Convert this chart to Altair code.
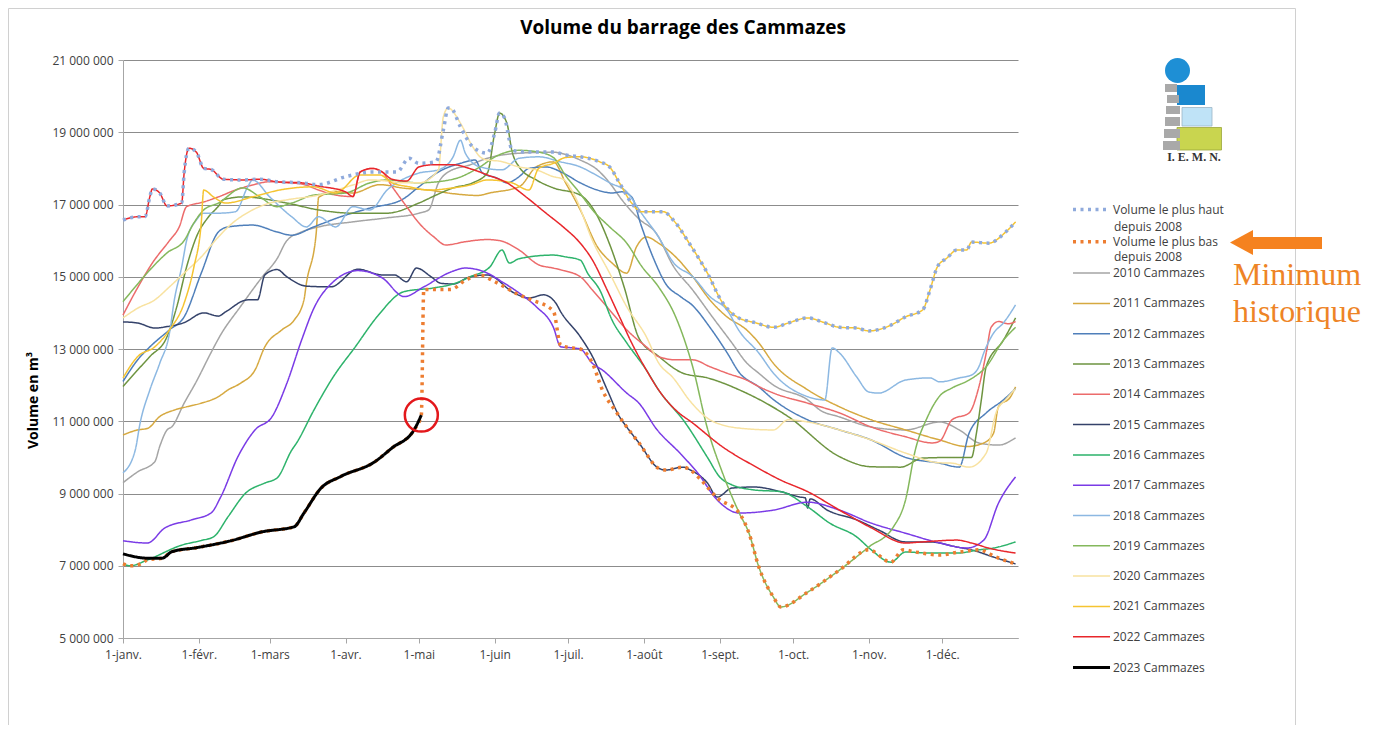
import altair as alt
import pandas as pd

FONT = "Open Sans"

# ---- data: (day of year [leap-year axis], volume in millions of m3) ----
S2010 = [(0, 9.3), (6, 9.6), (13, 9.88), (15, 10.3), (18, 10.76), (20, 10.85), (25, 11.5), (30, 12.1), (36, 12.9), (40, 13.4),
         (48, 14.17), (57, 15.0), (63, 15.5), (67, 16.0), (73, 16.24), (80, 16.38), (94, 16.52), (108, 16.63), (121, 16.76), (125, 16.85),
         (129, 17.6), (133, 17.9), (142, 18.1), (149, 18.28), (162, 18.42), (176, 18.45), (179, 18.42), (187, 18.23), (194, 17.96), (199, 17.6),
         (204, 17.13), (211, 16.6), (218, 16.21), (225, 15.3), (233, 14.63), (241, 13.89), (249, 13.17), (255, 12.62), (260, 12.33), (266, 12.0),
         (280, 11.59), (285, 11.31), (293, 11.12), (306, 10.84), (320, 10.76), (334, 10.98), (342, 10.76), (350, 10.4), (358, 10.34), (365, 10.54)]
S2011 = [(0, 10.62), (6, 10.76), (10, 10.8), (15, 11.13), (21, 11.31), (26, 11.4), (32, 11.5), (39, 11.68), (43, 11.87), (48, 12.05),
         (54, 12.42), (58, 13.06), (65, 13.53), (70, 13.8), (74, 14.36), (75, 14.82), (79, 16.2), (80, 17.2), (87, 17.35), (94, 17.32),
         (105, 17.55), (115, 17.45), (125, 17.4), (135, 17.3), (145, 17.25), (150, 17.32), (162, 17.49), (169, 18.04), (176, 18.18), (181, 17.6),
         (187, 16.85), (194, 15.83), (200, 15.38), (206, 15.1), (210, 15.83), (214, 16.1), (219, 15.93), (226, 15.55), (233, 15.0), (240, 14.36),
         (247, 13.89), (255, 13.53), (260, 13.17), (266, 12.6), (280, 11.87), (293, 11.4), (306, 11.04), (320, 10.76), (334, 10.48), (345, 10.3),
         (352, 10.4), (356, 10.67), (358, 11.4), (363, 11.68), (365, 11.95)]
S2012 = [(0, 12.1), (6, 12.7), (11, 13.06), (19, 13.53), (25, 13.89), (32, 15.1), (39, 16.24), (43, 16.38), (53, 16.43), (63, 16.24),
         (69, 16.15), (78, 16.38), (89, 16.66), (101, 16.9), (114, 17.13), (121, 17.49), (129, 17.9), (138, 18.14), (144, 18.23), (147, 17.87),
         (153, 17.73), (157, 17.6), (162, 17.77), (166, 18.0), (173, 18.04), (180, 17.87), (187, 17.6), (194, 17.4), (200, 17.32), (204, 17.35),
         (208, 17.21), (212, 16.4), (217, 15.5), (222, 14.8), (228, 14.45), (233, 14.2), (240, 13.6), (247, 12.9), (252, 12.35), (260, 11.95),
         (266, 11.6), (280, 11.04), (293, 10.76), (306, 10.48), (320, 10.0), (334, 9.84), (342, 9.73), (346, 10.67), (353, 11.23), (360, 11.59),
         (365, 11.9)]
S2013 = [(0, 11.96), (6, 12.42), (11, 12.79), (18, 13.34), (22, 14.17), (26, 15.27), (30, 16.1), (35, 16.66), (39, 16.95), (41, 17.13),
         (49, 17.21), (67, 17.04), (80, 16.85), (94, 16.76), (108, 16.76), (121, 17.04), (128, 17.26), (135, 17.46), (143, 17.6), (149, 17.87),
         (152, 18.98), (154, 19.53), (157, 19.25), (159, 18.5), (162, 18.04), (169, 17.68), (176, 17.46), (187, 17.26), (193, 16.8), (199, 15.9),
         (205, 14.7), (211, 13.3), (219, 12.8), (229, 12.33), (239, 12.2), (252, 11.87), (272, 11.13), (293, 10.02), (306, 9.74), (318, 9.73),
         (327, 9.98), (341, 10.0), (347, 10.0), (349, 10.67), (351, 11.59), (353, 12.51), (360, 13.24), (365, 13.86)]
S2014 = [(0, 13.94), (6, 14.7), (12, 15.38), (19, 16.0), (23, 16.38), (26, 16.94), (33, 17.07), (39, 17.21), (46, 17.4), (53, 17.54),
         (60, 17.63), (67, 17.6), (73, 17.57), (80, 17.4), (87, 17.26), (94, 17.22), (97, 17.9), (102, 18.0), (106, 17.9), (110, 17.5),
         (116, 16.94), (121, 16.49), (127, 16.11), (132, 15.88), (140, 15.97), (149, 16.03), (154, 16.0), (162, 15.74), (170, 15.33), (176, 15.24),
         (179, 15.19), (187, 15.0), (192, 14.63), (199, 14.08), (206, 13.53), (214, 13.06), (219, 12.79), (226, 12.7), (233, 12.7), (240, 12.51),
         (247, 12.33), (255, 12.14), (260, 11.96), (266, 11.78), (280, 11.5), (293, 11.23), (306, 10.84), (320, 10.57), (331, 10.4), (334, 10.45),
         (339, 11.04), (346, 11.23), (350, 11.95), (353, 12.89), (355, 13.6), (358, 13.76), (362, 13.7), (365, 13.76)]
S2015 = [(0, 13.75), (6, 13.72), (13, 13.58), (18, 13.62), (25, 13.73), (33, 14.0), (39, 13.91), (42, 14.03), (51, 14.36), (55, 14.36),
         (58, 15.05), (63, 15.2), (67, 15.0), (75, 14.74), (85, 14.72), (96, 15.21), (106, 15.05), (111, 15.05), (116, 14.86), (120, 15.24),
         (126, 15.0), (130, 14.82), (135, 14.8), (142, 15.0), (149, 15.05), (160, 14.55), (166, 14.41), (172, 14.5), (177, 14.27), (179, 14.03),
         (187, 13.34), (192, 12.79), (198, 11.87), (203, 11.13), (206, 10.84), (211, 10.4), (219, 9.7), (222, 9.65), (229, 9.73), (232, 9.65),
         (239, 9.29), (243, 8.9), (249, 9.15), (258, 9.18), (269, 9.05), (277, 8.9), (279, 8.88), (280, 8.6), (281, 8.85), (288, 8.54),
         (300, 8.27), (309, 7.99), (320, 7.66), (330, 7.66), (341, 7.52), (347, 7.44), (356, 7.24), (365, 7.05)]
S2016 = [(0, 7.05), (3, 7.0), (10, 7.16), (24, 7.57), (32, 7.7), (37, 7.8), (43, 8.36), (50, 9.0), (58, 9.29), (63, 9.43),
         (69, 10.2), (71, 10.4), (78, 11.3), (86, 12.23), (95, 13.06), (104, 13.9), (115, 14.59), (127, 14.69), (135, 14.8), (142, 15.0),
         (150, 15.27), (155, 15.74), (158, 15.38), (162, 15.5), (176, 15.6), (181, 15.55), (187, 15.46), (190, 15.1), (195, 14.63), (200, 13.8),
         (206, 13.17), (214, 12.42), (219, 11.87), (230, 10.95), (239, 10.0), (244, 9.46), (249, 9.24), (258, 9.1), (269, 9.05), (280, 8.63),
         (289, 8.18), (300, 7.8), (306, 7.44), (314, 7.1), (320, 7.38), (330, 7.35), (341, 7.35), (350, 7.44), (356, 7.49), (365, 7.66)]
S2017 = [(0, 7.69), (10, 7.63), (17, 8.04), (28, 8.27), (36, 8.46), (40, 8.91), (47, 10.02), (54, 10.76), (61, 11.13), (67, 12.05),
         (73, 13.24), (78, 14.12), (86, 14.86), (96, 15.17), (106, 14.97), (115, 14.45), (123, 14.72), (134, 15.13), (140, 15.24), (149, 15.1),
         (155, 14.86), (162, 14.55), (169, 14.17), (176, 13.6), (179, 13.06), (184, 13.03), (187, 13.0), (192, 12.6), (196, 12.42), (206, 11.78),
         (211, 11.5), (218, 10.8), (228, 10.1), (235, 9.57), (243, 8.82), (252, 8.46), (266, 8.54), (280, 8.76), (293, 8.54), (306, 8.18),
         (320, 7.9), (334, 7.63), (345, 7.49), (352, 7.71), (358, 8.73), (365, 9.46)]
S2018 = [(0, 9.57), (5, 10.2), (7, 10.95), (11, 11.87), (15, 12.6), (19, 13.44), (21, 14.36), (24, 15.27), (26, 16.0), (30, 16.57),
         (33, 16.76), (39, 16.76), (46, 16.8), (51, 17.49), (53, 17.68), (60, 17.21), (69, 16.66), (75, 16.38), (80, 16.66), (87, 16.38),
         (94, 16.94), (101, 16.85), (108, 17.4), (114, 17.68), (121, 17.87), (129, 17.96), (135, 18.32), (138, 18.78), (140, 18.42), (146, 18.04),
         (155, 17.96), (162, 18.28), (170, 18.32), (179, 18.18), (187, 18.04), (192, 17.87), (199, 17.6), (206, 17.35), (212, 16.76), (219, 16.1),
         (225, 15.4), (233, 15.0), (240, 14.45), (247, 14.08), (252, 13.5), (260, 12.89), (266, 12.33), (280, 11.68), (287, 11.59), (290, 13.03),
         (293, 12.89), (300, 12.23), (305, 11.81), (309, 11.78), (320, 12.14), (330, 12.2), (334, 12.09), (342, 12.2), (347, 12.28), (350, 12.51),
         (352, 12.89), (356, 13.44), (360, 13.72), (365, 14.22)]
S2019 = [(0, 14.31), (5, 14.72), (11, 15.19), (18, 15.66), (25, 16.0), (29, 16.49), (33, 16.85), (39, 17.04), (49, 17.46), (56, 17.21),
         (63, 16.94), (69, 17.04), (78, 17.26), (91, 17.32), (101, 17.6), (108, 17.68), (121, 17.6), (135, 17.7), (145, 18.0), (153, 18.35),
         (162, 18.5), (170, 18.45), (176, 18.3), (181, 17.8), (187, 17.3), (192, 16.85), (199, 16.38), (206, 15.93), (212, 15.3), (219, 14.72),
         (226, 13.89), (233, 12.5), (239, 10.8), (245, 9.6), (252, 8.46), (256, 7.9), (260, 6.97), (266, 6.13), (269, 5.86), (280, 6.27),
         (293, 6.88), (305, 7.52), (315, 8.07), (320, 8.82), (324, 10.2), (329, 11.12), (334, 11.7), (339, 11.92), (346, 12.14), (353, 12.51),
         (360, 13.24), (365, 13.6)]
S2020 = [(0, 13.86), (6, 14.13), (13, 14.36), (19, 14.72), (25, 15.1), (32, 15.55), (39, 16.1), (43, 16.38), (53, 16.85), (60, 17.04),
         (67, 17.13), (80, 17.26), (94, 17.54), (101, 17.68), (108, 17.65), (114, 17.6), (121, 17.6), (129, 17.96), (131, 19.43), (133, 19.67),
         (138, 19.25), (143, 18.6), (146, 18.32), (149, 18.23), (154, 18.2), (162, 18.04), (169, 17.96), (176, 17.77), (180, 17.7), (185, 17.2),
         (192, 16.0), (199, 15.1), (206, 14.17), (214, 13.34), (219, 12.62), (225, 12.2), (232, 11.55), (240, 11.04), (245, 10.9), (252, 10.81),
         (266, 10.76), (272, 11.04), (280, 10.98), (293, 10.76), (306, 10.48), (320, 10.12), (334, 9.85), (339, 9.84), (346, 9.73), (353, 10.12),
         (357, 11.23), (361, 11.6), (365, 11.9)]
S2021 = [(0, 12.2), (6, 12.79), (13, 13.06), (19, 13.53), (25, 14.27), (29, 15.27), (32, 16.49), (33, 17.4), (37, 17.21), (42, 17.04),
         (53, 17.21), (64, 17.4), (78, 17.49), (87, 17.32), (97, 17.82), (105, 17.82), (110, 17.6), (117, 17.49), (125, 17.4), (135, 17.46),
         (142, 17.54), (149, 17.68), (159, 17.6), (166, 17.4), (170, 18.0), (176, 18.14), (181, 18.3), (187, 18.32), (195, 18.18), (199, 18.04),
         (203, 17.6), (208, 17.04), (212, 16.8), (221, 16.8), (225, 16.57), (232, 15.88), (239, 15.1), (245, 14.3), (251, 13.89), (259, 13.72),
         (266, 13.6), (272, 13.72), (280, 13.86), (286, 13.75), (293, 13.6), (300, 13.58), (305, 13.5), (314, 13.66), (320, 13.89), (327, 14.08),
         (330, 14.63), (333, 15.27), (337, 15.52), (341, 15.74), (345, 15.74), (347, 15.96), (354, 15.93), (361, 16.24), (365, 16.52)]
S2022 = [(0, 16.57), (6, 16.66), (9, 16.66), (11, 17.22), (12, 17.43), (15, 17.32), (18, 16.96), (24, 17.04), (25, 17.87), (27, 18.56),
         (30, 18.45), (33, 18.0), (36, 17.97), (41, 17.7), (49, 17.68), (56, 17.7), (63, 17.63), (73, 17.6), (80, 17.51), (91, 17.35),
         (94, 17.22), (97, 17.9), (102, 18.0), (106, 17.9), (110, 17.7), (116, 17.65), (121, 18.04), (127, 18.1), (135, 18.1), (142, 17.99),
         (149, 17.82), (157, 17.6), (165, 17.2), (173, 16.76), (180, 16.38), (187, 15.93), (192, 15.46), (198, 14.63), (203, 13.9), (208, 13.17),
         (214, 12.42), (219, 11.87), (226, 11.31), (233, 10.95), (245, 10.3), (259, 9.73), (269, 9.37), (280, 9.05), (293, 8.54), (306, 8.05),
         (320, 7.63), (327, 7.66), (341, 7.71), (347, 7.63), (354, 7.49), (365, 7.35)]
S2023 = [(0, 7.33), (10, 7.21), (16, 7.21), (20, 7.39), (30, 7.5), (44, 7.69), (57, 7.94), (70, 8.08), (74, 8.46), (81, 9.15),
         (89, 9.47), (103, 9.88), (110, 10.26), (119, 10.76), (122, 11.17)]
S_MAX = [(0, 16.57), (6, 16.66), (9, 16.66), (11, 17.22), (12, 17.43), (15, 17.32), (18, 16.96), (24, 17.04), (25, 17.87), (27, 18.56),
         (30, 18.45), (33, 18.0), (36, 17.97), (41, 17.7), (49, 17.68), (56, 17.7), (63, 17.63), (73, 17.6), (80, 17.55), (91, 17.77),
         (102, 17.9), (112, 17.9), (117, 18.28), (121, 18.14), (128, 18.18), (131, 19.06), (133, 19.67), (134, 19.67), (138, 19.15), (143, 18.6),
         (149, 18.42), (152, 18.98), (154, 19.53), (156, 19.4), (158, 18.78), (159, 18.5), (166, 18.45), (176, 18.45), (181, 18.37), (187, 18.32),
         (195, 18.18), (199, 18.04), (203, 17.6), (208, 17.04), (212, 16.8), (221, 16.8), (225, 16.57), (232, 15.88), (239, 15.1), (245, 14.3),
         (251, 13.89), (259, 13.72), (266, 13.6), (272, 13.72), (280, 13.86), (286, 13.75), (293, 13.6), (300, 13.58), (305, 13.5), (314, 13.66),
         (320, 13.89), (327, 14.08), (330, 14.63), (333, 15.27), (337, 15.52), (341, 15.74), (345, 15.74), (347, 15.96), (354, 15.93), (361, 16.24),
         (365, 16.52)]
S_MIN = [(0, 7.05), (3, 7.0), (6, 7.02), (10, 7.16), (16, 7.21), (20, 7.39), (30, 7.5), (44, 7.69), (57, 7.94), (70, 8.08),
         (74, 8.46), (81, 9.15), (89, 9.47), (103, 9.88), (110, 10.26), (119, 10.76), (122, 11.17), (123, 14.65), (134, 14.65), (140, 14.9),
         (146, 15.05), (151, 14.9), (162, 14.5), (167, 14.36), (176, 14.05), (179, 13.1), (184, 13.03), (187, 13.0), (192, 12.6), (196, 11.87),
         (202, 11.23), (206, 10.84), (211, 10.4), (219, 9.7), (222, 9.65), (229, 9.73), (232, 9.65), (236, 9.4), (243, 8.88), (252, 8.46),
         (256, 7.9), (260, 6.97), (266, 6.13), (269, 5.86), (280, 6.27), (293, 6.88), (305, 7.44), (314, 7.1), (319, 7.44), (324, 7.38),
         (334, 7.3), (342, 7.38), (350, 7.44), (357, 7.24), (365, 7.05)]

NAME_MAX = "Volume le plus haut|depuis 2008"
NAME_MIN = "Volume le plus bas|depuis 2008"
YEAR_SERIES = [("2010 Cammazes", S2010), ("2011 Cammazes", S2011), ("2012 Cammazes", S2012), ("2013 Cammazes", S2013),
               ("2014 Cammazes", S2014), ("2015 Cammazes", S2015), ("2016 Cammazes", S2016), ("2017 Cammazes", S2017),
               ("2018 Cammazes", S2018), ("2019 Cammazes", S2019), ("2020 Cammazes", S2020), ("2021 Cammazes", S2021),
               ("2022 Cammazes", S2022), ("2023 Cammazes", S2023)]
ALL_SERIES = [(NAME_MAX, S_MAX), (NAME_MIN, S_MIN)] + YEAR_SERIES

NAMES = [n for n, _ in ALL_SERIES]
YEAR_NAMES = [n for n, _ in YEAR_SERIES]
COLORS = ["#8FAADC", "#ED7D31", "#A5A5A5", "#D6A940", "#4F7FBA", "#6E9440", "#EC6B6B", "#34426A",
          "#2DB36B", "#7A3BE6", "#8CB8E2", "#84B85C", "#F8E2A0", "#F5C431", "#E8262B", "#000000"]
DASHES = [[3, 4.5], [3, 4.5]] + [[1, 0]] * 14
WIDTHS = [3.5, 3.5] + [1.5] * 13 + [3]

MONTH_DAYS = [0, 31, 60, 91, 121, 152, 182, 213, 244, 274, 305, 335]
MONTH_LABELS = ["1-janv.", "1-févr.", "1-mars", "1-avr.", "1-mai", "1-juin", "1-juil.", "1-août",
                "1-sept.", "1-oct.", "1-nov.", "1-déc."]
Y_TICKS = [5, 7, 9, 11, 13, 15, 17, 19, 21]

rows = []
for name, pts in ALL_SERIES:
    for i, (d, v) in enumerate(pts):
        rows.append({"series": name, "day": d, "vol": v, "idx": i})
df = pd.DataFrame(rows)

label_expr_x = "[" + ",".join("'" + s + "'" for s in MONTH_LABELS) + "][indexof([" + \
    ",".join(str(d) for d in MONTH_DAYS) + "], datum.value)]"

x_enc = alt.X("day:Q", scale=alt.Scale(domain=[0, 366], nice=False, zero=False),
              axis=alt.Axis(title=None, values=MONTH_DAYS, labelExpr=label_expr_x, grid=False,
                            tickSize=5, labelPadding=6, labelFlush=False))
y_enc = alt.Y("vol:Q", scale=alt.Scale(domain=[5, 21], nice=False, zero=False),
              axis=alt.Axis(title="Volume en m³", values=Y_TICKS,
                            labelExpr="format(datum.value, 'd') + ' 000 000'",
                            grid=True, tickSize=5, labelPadding=5,
                            titleX=-90, titleY=340, titleAngle=270, titleAlign="center",
                            titleBaseline="middle", titleFont=FONT, titleFontSize=14,
                            titleFontWeight="bold", titleColor="#000000"))

LEG_X, LEG_Y, SYM_LEN, LAB_OFF = 948, 129, 37, 1
FIRST_ROW_Y, ROW_STEP = 150, 30.3   # centre of first legend row (plot coords) and row spacing

legend = alt.Legend(title=None, orient="none", legendX=LEG_X, legendY=LEG_Y, symbolType="stroke",
                    symbolSize=SYM_LEN * SYM_LEN, labelFont=FONT, labelFontSize=12, labelColor="#404040",
                    labelOffset=LAB_OFF, rowPadding=4.3, padding=0, labelLimit=400,
                    labelExpr="split(datum.label, '|')[0]")

color = alt.Color("series:N", scale=alt.Scale(domain=NAMES, range=COLORS), legend=legend)
dash = alt.StrokeDash("series:N", scale=alt.Scale(domain=NAMES, range=DASHES), legend=legend)
width = alt.StrokeWidth("series:N", scale=alt.Scale(type="ordinal", domain=NAMES, range=WIDTHS), legend=legend)

base = alt.Chart(df).encode(x=x_enc, y=y_enc, color=color, strokeDash=dash, strokeWidth=width,
                            order=alt.Order("idx:Q"))
years = base.transform_filter(alt.FieldOneOfPredicate(field="series", oneOf=YEAR_NAMES[:-1])).mark_line(interpolate="monotone")
envelope = base.transform_filter(alt.FieldOneOfPredicate(field="series", oneOf=[NAME_MAX, NAME_MIN])).mark_line(
    strokeCap="butt", interpolate="monotone")
last_year = base.transform_filter(alt.FieldEqualPredicate(field="series", equal="2023 Cammazes")).mark_line(interpolate="monotone")

last_pt = df[df["series"] == "2023 Cammazes"].iloc[[-1]]
circle = alt.Chart(last_pt).mark_point(shape="circle", filled=False, size=1089, strokeWidth=2.5,
                                       color="#E3171B", opacity=1).encode(x=x_enc, y=y_enc)

ONE = pd.DataFrame({"k": [0]})


def rect(x1, x2, y1, y2, **kw):
    return alt.Chart(ONE).mark_rect(**kw).encode(
        x=alt.value(x1), x2=alt.value(x2), y=alt.value(y1), y2=alt.value(y2))


def label(text, x, y, **kw):
    return alt.Chart(ONE).mark_text(text=text, **kw).encode(x=alt.value(x), y=alt.value(y))


frame = rect(-114.5, 1172.5, -51.5, 720, fillOpacity=0, stroke="#D0D0D0", strokeWidth=1)

title = label("Volume du barrage des Cammazes", 560, -32, font=FONT, fontSize=19, fontWeight="bold",
              color="#000000", align="center", baseline="middle")

# second line of the two envelope legend entries
lab_x = 991
sub1 = label("depuis 2008", lab_x, FIRST_ROW_Y + 17, font=FONT, fontSize=12, color="#404040",
             align="left", baseline="middle")
sub2 = label("depuis 2008", lab_x, FIRST_ROW_Y + ROW_STEP + 17, font=FONT, fontSize=12, color="#404040",
             align="left", baseline="middle")

# logo
logo = [
    alt.Chart(ONE).mark_circle(size=625, color="#1E8FD5", opacity=1).encode(x=alt.value(1054.5), y=alt.value(10.5)),
    rect(1054, 1082, 25, 45, color="#1A88CF"),
    rect(1059, 1089, 47.5, 66, color="#BFE3F7", stroke="#9DB5C5", strokeWidth=0.8),
    rect(1054, 1098.5, 67.5, 90, color="#C9D54F", stroke="#9AA63A", strokeWidth=0.8),
]
for (a, b, c, d) in [(1042, 1054, 24, 32), (1044, 1056, 35, 43), (1043, 1057, 46, 54),
                     (1042, 1057, 57, 66), (1041, 1057, 69, 78), (1040, 1057, 81, 90)]:
    logo.append(rect(a, b, c, d, color="#A9A9A9"))
logo.append(label("I. E. M. N.", 1071, 97, font="Liberation Serif", fontSize=12, fontWeight="bold",
                  color="#333333", align="center", baseline="middle"))

# annotation arrow + text
arrow_shaft = rect(1130, 1199, 177, 189, color="#F5821F")
arrow_head = alt.Chart(ONE).mark_point(shape="M -0.92 0 L 0.92 -1 L 0.92 1 Z", filled=True, size=625,
                                       color="#F5821F", opacity=1, strokeWidth=0).encode(
    x=alt.value(1118.5), y=alt.value(182.5))
note = alt.Chart(ONE).mark_text(text=["Minimum", "historique"], font="Liberation Serif", fontSize=32,
                                color="#EE8426", align="left", baseline="alphabetic",
                                lineHeight=37).encode(x=alt.value(1110), y=alt.value(225))

chart = alt.layer(frame, years, envelope, last_year, circle, title, sub1, sub2, *logo,
                  arrow_shaft, arrow_head, note).properties(
    width=895, height=578,
    padding={"left": 115, "top": 52, "right": 350, "bottom": 87},
    autosize=alt.AutoSizeParams(type="none"),
).configure_view(strokeWidth=0).configure_axis(
    labelFont=FONT, labelFontSize=12, labelColor="#404040",
    domainColor="#A6A6A6", tickColor="#A6A6A6", gridColor="#8C8C8C", gridWidth=1,
)

chart.save("out.html", embed_options={"renderer": "svg", "actions": False})
